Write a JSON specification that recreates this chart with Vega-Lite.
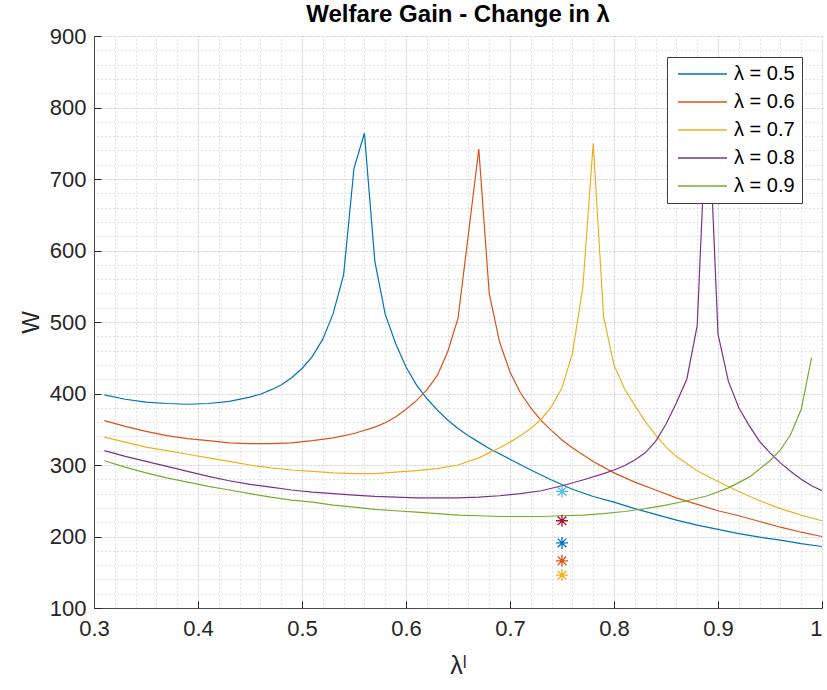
{
  "$schema": "https://vega.github.io/schema/vega-lite/v6.json",
  "width": 728,
  "height": 572,
  "autosize": {"type": "none"},
  "padding": {"left": 94, "top": 36, "right": 5, "bottom": 82},
  "background": "white",
  "config": {"view": {"stroke": null}},
  "title": {"text": "Welfare Gain - Change in λ", "fontSize": 24, "font": "Liberation Sans", "fontWeight": "bold", "color": "#000000", "anchor": "middle", "offset": -2},
  "datasets": {
    "curves": [
      {"s": "λ = 0.5", "x": 0.31, "W": 398}, {"s": "λ = 0.5", "x": 0.33, "W": 392}, {"s": "λ = 0.5", "x": 0.35, "W": 388}, {"s": "λ = 0.5", "x": 0.37, "W": 386}, {"s": "λ = 0.5", "x": 0.39, "W": 385}, {"s": "λ = 0.5", "x": 0.41, "W": 386}, {"s": "λ = 0.5", "x": 0.43, "W": 389}, {"s": "λ = 0.5", "x": 0.45, "W": 395}, {"s": "λ = 0.5", "x": 0.46, "W": 399}, {"s": "λ = 0.5", "x": 0.47, "W": 405}, {"s": "λ = 0.5", "x": 0.48, "W": 412}, {"s": "λ = 0.5", "x": 0.49, "W": 422}, {"s": "λ = 0.5", "x": 0.50, "W": 435}, {"s": "λ = 0.5", "x": 0.51, "W": 452}, {"s": "λ = 0.5", "x": 0.52, "W": 476}, {"s": "λ = 0.5", "x": 0.53, "W": 512}, {"s": "λ = 0.5", "x": 0.54, "W": 566}, {"s": "λ = 0.5", "x": 0.55, "W": 715}, {"s": "λ = 0.5", "x": 0.56, "W": 764}, {"s": "λ = 0.5", "x": 0.57, "W": 585}, {"s": "λ = 0.5", "x": 0.58, "W": 511}, {"s": "λ = 0.5", "x": 0.59, "W": 470}, {"s": "λ = 0.5", "x": 0.60, "W": 437}, {"s": "λ = 0.5", "x": 0.61, "W": 412}, {"s": "λ = 0.5", "x": 0.62, "W": 393}, {"s": "λ = 0.5", "x": 0.63, "W": 377}, {"s": "λ = 0.5", "x": 0.64, "W": 363}, {"s": "λ = 0.5", "x": 0.65, "W": 351}, {"s": "λ = 0.5", "x": 0.66, "W": 341}, {"s": "λ = 0.5", "x": 0.67, "W": 332}, {"s": "λ = 0.5", "x": 0.68, "W": 323}, {"s": "λ = 0.5", "x": 0.70, "W": 308}, {"s": "λ = 0.5", "x": 0.72, "W": 293}, {"s": "λ = 0.5", "x": 0.74, "W": 279}, {"s": "λ = 0.5", "x": 0.76, "W": 266}, {"s": "λ = 0.5", "x": 0.78, "W": 256}, {"s": "λ = 0.5", "x": 0.80, "W": 248}, {"s": "λ = 0.5", "x": 0.82, "W": 239}, {"s": "λ = 0.5", "x": 0.84, "W": 231}, {"s": "λ = 0.5", "x": 0.86, "W": 223}, {"s": "λ = 0.5", "x": 0.88, "W": 216}, {"s": "λ = 0.5", "x": 0.90, "W": 210}, {"s": "λ = 0.5", "x": 0.92, "W": 204}, {"s": "λ = 0.5", "x": 0.94, "W": 199}, {"s": "λ = 0.5", "x": 0.96, "W": 195}, {"s": "λ = 0.5", "x": 0.98, "W": 190}, {"s": "λ = 0.5", "x": 1.00, "W": 186},

      {"s": "λ = 0.6", "x": 0.31, "W": 362}, {"s": "λ = 0.6", "x": 0.33, "W": 354}, {"s": "λ = 0.6", "x": 0.35, "W": 347}, {"s": "λ = 0.6", "x": 0.37, "W": 341}, {"s": "λ = 0.6", "x": 0.39, "W": 337}, {"s": "λ = 0.6", "x": 0.41, "W": 334}, {"s": "λ = 0.6", "x": 0.43, "W": 331}, {"s": "λ = 0.6", "x": 0.45, "W": 330}, {"s": "λ = 0.6", "x": 0.47, "W": 330}, {"s": "λ = 0.6", "x": 0.49, "W": 331}, {"s": "λ = 0.6", "x": 0.51, "W": 334}, {"s": "λ = 0.6", "x": 0.53, "W": 338}, {"s": "λ = 0.6", "x": 0.55, "W": 344}, {"s": "λ = 0.6", "x": 0.57, "W": 353}, {"s": "λ = 0.6", "x": 0.58, "W": 359}, {"s": "λ = 0.6", "x": 0.59, "W": 367}, {"s": "λ = 0.6", "x": 0.60, "W": 378}, {"s": "λ = 0.6", "x": 0.61, "W": 390}, {"s": "λ = 0.6", "x": 0.62, "W": 405}, {"s": "λ = 0.6", "x": 0.63, "W": 425}, {"s": "λ = 0.6", "x": 0.64, "W": 458}, {"s": "λ = 0.6", "x": 0.65, "W": 505}, {"s": "λ = 0.6", "x": 0.66, "W": 623}, {"s": "λ = 0.6", "x": 0.67, "W": 742}, {"s": "λ = 0.6", "x": 0.68, "W": 540}, {"s": "λ = 0.6", "x": 0.69, "W": 472}, {"s": "λ = 0.6", "x": 0.70, "W": 430}, {"s": "λ = 0.6", "x": 0.71, "W": 401}, {"s": "λ = 0.6", "x": 0.72, "W": 380}, {"s": "λ = 0.6", "x": 0.73, "W": 362}, {"s": "λ = 0.6", "x": 0.74, "W": 348}, {"s": "λ = 0.6", "x": 0.75, "W": 335}, {"s": "λ = 0.6", "x": 0.76, "W": 324}, {"s": "λ = 0.6", "x": 0.78, "W": 305}, {"s": "λ = 0.6", "x": 0.80, "W": 289}, {"s": "λ = 0.6", "x": 0.82, "W": 276}, {"s": "λ = 0.6", "x": 0.84, "W": 265}, {"s": "λ = 0.6", "x": 0.86, "W": 254}, {"s": "λ = 0.6", "x": 0.88, "W": 245}, {"s": "λ = 0.6", "x": 0.90, "W": 236}, {"s": "λ = 0.6", "x": 0.92, "W": 229}, {"s": "λ = 0.6", "x": 0.94, "W": 221}, {"s": "λ = 0.6", "x": 0.96, "W": 213}, {"s": "λ = 0.6", "x": 0.98, "W": 206}, {"s": "λ = 0.6", "x": 1.00, "W": 200},

      {"s": "λ = 0.7", "x": 0.31, "W": 339}, {"s": "λ = 0.7", "x": 0.33, "W": 332}, {"s": "λ = 0.7", "x": 0.35, "W": 325}, {"s": "λ = 0.7", "x": 0.37, "W": 320}, {"s": "λ = 0.7", "x": 0.39, "W": 315}, {"s": "λ = 0.7", "x": 0.41, "W": 310}, {"s": "λ = 0.7", "x": 0.43, "W": 305}, {"s": "λ = 0.7", "x": 0.45, "W": 300}, {"s": "λ = 0.7", "x": 0.47, "W": 296}, {"s": "λ = 0.7", "x": 0.49, "W": 293}, {"s": "λ = 0.7", "x": 0.51, "W": 291}, {"s": "λ = 0.7", "x": 0.53, "W": 289}, {"s": "λ = 0.7", "x": 0.55, "W": 288}, {"s": "λ = 0.7", "x": 0.57, "W": 288}, {"s": "λ = 0.7", "x": 0.59, "W": 290}, {"s": "λ = 0.7", "x": 0.61, "W": 292}, {"s": "λ = 0.7", "x": 0.63, "W": 295}, {"s": "λ = 0.7", "x": 0.65, "W": 300}, {"s": "λ = 0.7", "x": 0.67, "W": 310}, {"s": "λ = 0.7", "x": 0.68, "W": 317}, {"s": "λ = 0.7", "x": 0.69, "W": 324}, {"s": "λ = 0.7", "x": 0.70, "W": 332}, {"s": "λ = 0.7", "x": 0.71, "W": 341}, {"s": "λ = 0.7", "x": 0.72, "W": 351}, {"s": "λ = 0.7", "x": 0.73, "W": 364}, {"s": "λ = 0.7", "x": 0.74, "W": 382}, {"s": "λ = 0.7", "x": 0.75, "W": 408}, {"s": "λ = 0.7", "x": 0.76, "W": 456}, {"s": "λ = 0.7", "x": 0.77, "W": 548}, {"s": "λ = 0.7", "x": 0.78, "W": 750}, {"s": "λ = 0.7", "x": 0.79, "W": 507}, {"s": "λ = 0.7", "x": 0.80, "W": 440}, {"s": "λ = 0.7", "x": 0.81, "W": 407}, {"s": "λ = 0.7", "x": 0.82, "W": 383}, {"s": "λ = 0.7", "x": 0.83, "W": 361}, {"s": "λ = 0.7", "x": 0.84, "W": 342}, {"s": "λ = 0.7", "x": 0.85, "W": 325}, {"s": "λ = 0.7", "x": 0.86, "W": 312}, {"s": "λ = 0.7", "x": 0.88, "W": 292}, {"s": "λ = 0.7", "x": 0.90, "W": 277}, {"s": "λ = 0.7", "x": 0.92, "W": 263}, {"s": "λ = 0.7", "x": 0.94, "W": 250}, {"s": "λ = 0.7", "x": 0.96, "W": 239}, {"s": "λ = 0.7", "x": 0.98, "W": 230}, {"s": "λ = 0.7", "x": 1.00, "W": 222},

      {"s": "λ = 0.8", "x": 0.31, "W": 320}, {"s": "λ = 0.8", "x": 0.33, "W": 312}, {"s": "λ = 0.8", "x": 0.35, "W": 305}, {"s": "λ = 0.8", "x": 0.37, "W": 298}, {"s": "λ = 0.8", "x": 0.39, "W": 291}, {"s": "λ = 0.8", "x": 0.41, "W": 284}, {"s": "λ = 0.8", "x": 0.43, "W": 278}, {"s": "λ = 0.8", "x": 0.45, "W": 273}, {"s": "λ = 0.8", "x": 0.47, "W": 269}, {"s": "λ = 0.8", "x": 0.49, "W": 265}, {"s": "λ = 0.8", "x": 0.51, "W": 262}, {"s": "λ = 0.8", "x": 0.53, "W": 260}, {"s": "λ = 0.8", "x": 0.55, "W": 258}, {"s": "λ = 0.8", "x": 0.57, "W": 256}, {"s": "λ = 0.8", "x": 0.59, "W": 255}, {"s": "λ = 0.8", "x": 0.61, "W": 254}, {"s": "λ = 0.8", "x": 0.63, "W": 254}, {"s": "λ = 0.8", "x": 0.65, "W": 254}, {"s": "λ = 0.8", "x": 0.67, "W": 255}, {"s": "λ = 0.8", "x": 0.69, "W": 257}, {"s": "λ = 0.8", "x": 0.71, "W": 260}, {"s": "λ = 0.8", "x": 0.73, "W": 264}, {"s": "λ = 0.8", "x": 0.75, "W": 271}, {"s": "λ = 0.8", "x": 0.77, "W": 279}, {"s": "λ = 0.8", "x": 0.79, "W": 288}, {"s": "λ = 0.8", "x": 0.80, "W": 293}, {"s": "λ = 0.8", "x": 0.81, "W": 299}, {"s": "λ = 0.8", "x": 0.82, "W": 307}, {"s": "λ = 0.8", "x": 0.83, "W": 317}, {"s": "λ = 0.8", "x": 0.84, "W": 333}, {"s": "λ = 0.8", "x": 0.85, "W": 357}, {"s": "λ = 0.8", "x": 0.86, "W": 387}, {"s": "λ = 0.8", "x": 0.87, "W": 420}, {"s": "λ = 0.8", "x": 0.88, "W": 495}, {"s": "λ = 0.8", "x": 0.89, "W": 830}, {"s": "λ = 0.8", "x": 0.90, "W": 483}, {"s": "λ = 0.8", "x": 0.91, "W": 417}, {"s": "λ = 0.8", "x": 0.92, "W": 380}, {"s": "λ = 0.8", "x": 0.93, "W": 355}, {"s": "λ = 0.8", "x": 0.94, "W": 333}, {"s": "λ = 0.8", "x": 0.95, "W": 317}, {"s": "λ = 0.8", "x": 0.96, "W": 303}, {"s": "λ = 0.8", "x": 0.97, "W": 291}, {"s": "λ = 0.8", "x": 0.98, "W": 280}, {"s": "λ = 0.8", "x": 0.99, "W": 271}, {"s": "λ = 0.8", "x": 1.00, "W": 264},

      {"s": "λ = 0.9", "x": 0.31, "W": 306}, {"s": "λ = 0.9", "x": 0.33, "W": 297}, {"s": "λ = 0.9", "x": 0.35, "W": 289}, {"s": "λ = 0.9", "x": 0.37, "W": 282}, {"s": "λ = 0.9", "x": 0.39, "W": 276}, {"s": "λ = 0.9", "x": 0.41, "W": 270}, {"s": "λ = 0.9", "x": 0.43, "W": 265}, {"s": "λ = 0.9", "x": 0.45, "W": 260}, {"s": "λ = 0.9", "x": 0.47, "W": 255}, {"s": "λ = 0.9", "x": 0.49, "W": 251}, {"s": "λ = 0.9", "x": 0.51, "W": 248}, {"s": "λ = 0.9", "x": 0.53, "W": 244}, {"s": "λ = 0.9", "x": 0.55, "W": 241}, {"s": "λ = 0.9", "x": 0.57, "W": 238}, {"s": "λ = 0.9", "x": 0.59, "W": 236}, {"s": "λ = 0.9", "x": 0.61, "W": 234}, {"s": "λ = 0.9", "x": 0.63, "W": 232}, {"s": "λ = 0.9", "x": 0.65, "W": 230}, {"s": "λ = 0.9", "x": 0.67, "W": 229}, {"s": "λ = 0.9", "x": 0.69, "W": 228}, {"s": "λ = 0.9", "x": 0.71, "W": 228}, {"s": "λ = 0.9", "x": 0.73, "W": 228}, {"s": "λ = 0.9", "x": 0.75, "W": 229}, {"s": "λ = 0.9", "x": 0.77, "W": 230}, {"s": "λ = 0.9", "x": 0.79, "W": 232}, {"s": "λ = 0.9", "x": 0.81, "W": 235}, {"s": "λ = 0.9", "x": 0.83, "W": 239}, {"s": "λ = 0.9", "x": 0.85, "W": 244}, {"s": "λ = 0.9", "x": 0.87, "W": 250}, {"s": "λ = 0.9", "x": 0.89, "W": 257}, {"s": "λ = 0.9", "x": 0.91, "W": 268}, {"s": "λ = 0.9", "x": 0.93, "W": 283}, {"s": "λ = 0.9", "x": 0.95, "W": 306}, {"s": "λ = 0.9", "x": 0.96, "W": 321}, {"s": "λ = 0.9", "x": 0.97, "W": 343}, {"s": "λ = 0.9", "x": 0.98, "W": 378}, {"s": "λ = 0.9", "x": 0.99, "W": 450}
    ],
    "stars": [
      {"k": "s1", "x": 0.75, "W": 263},
      {"k": "s2", "x": 0.75, "W": 222},
      {"k": "s3", "x": 0.75, "W": 191},
      {"k": "s4", "x": 0.75, "W": 166},
      {"k": "s5", "x": 0.75, "W": 146}
    ]
  },
  "layer": [
    {
      "data": {"name": "curves"},
      "mark": {"type": "line", "strokeWidth": 1.2, "clip": true},
      "encoding": {
        "x": {"field": "x", "type": "quantitative", "scale": {"domain": [0.3, 1], "nice": false, "zero": false},
          "axis": {"orient": "top", "values": [0.3,0.32,0.34,0.36,0.38,0.4,0.42,0.44,0.46,0.48,0.5,0.52,0.54,0.56,0.58,0.6,0.62,0.64,0.66,0.68,0.7,0.72,0.74,0.76,0.78,0.8,0.82,0.84,0.86,0.88,0.9,0.92,0.94,0.96,0.98,1.0],
            "grid": true, "gridColor": "#c4c4c4", "gridDash": [1, 3], "gridWidth": 1, "labels": false, "ticks": false, "domain": false, "title": null, "minExtent": 0, "maxExtent": 0}},
        "y": {"field": "W", "type": "quantitative", "scale": {"domain": [100, 900], "nice": false, "zero": false},
          "axis": {"orient": "right", "values": [100,120,140,160,180,200,220,240,260,280,300,320,340,360,380,400,420,440,460,480,500,520,540,560,580,600,620,640,660,680,700,720,740,760,780,800,820,840,860,880,900],
            "grid": true, "gridColor": "#c4c4c4", "gridDash": [1, 3], "gridWidth": 1, "labels": false, "ticks": false, "domain": false, "title": null, "minExtent": 0, "maxExtent": 0}},
        "color": {"field": "s", "type": "nominal",
          "scale": {"domain": ["λ = 0.5", "λ = 0.6", "λ = 0.7", "λ = 0.8", "λ = 0.9"], "range": ["#0072BD", "#D95319", "#EDB120", "#7E2F8E", "#77AC30"]},
          "legend": {"orient": "none", "legendX": 573, "legendY": 21, "title": null,
            "symbolType": "M-0.4,0H9.4", "symbolSize": 100, "symbolStrokeWidth": 1.4, "symbolOffset": -4,
            "labelOffset": 44, "labelFontSize": 20, "labelFont": "Liberation Sans", "labelColor": "#000000",
            "padding": 7, "rowPadding": 8, "strokeColor": "#3c3c3c", "fillColor": "#ffffff"}}
      }
    },
    {
      "data": {"name": "stars"},
      "mark": {"type": "point", "shape": "M0,-1V1M-1,0H1M-0.72,-0.72L0.72,0.72M-0.72,0.72L0.72,-0.72", "size": 144, "filled": false, "strokeWidth": 1.3, "opacity": 1},
      "encoding": {
        "x": {"field": "x", "type": "quantitative",
          "axis": {"orient": "bottom", "values": [0.3, 0.4, 0.5, 0.6, 0.7, 0.8, 0.9, 1.0], "format": "~g", "labelFlush": false,
            "labelAlign": {"condition": {"test": "datum.value >= 0.99", "value": "right"}, "value": "center"},
            "grid": true, "gridColor": "#bdbdbd", "gridDash": [1, 3], "gridWidth": 1,
            "tickSize": -7, "tickColor": "#262626", "domainColor": "#4a4a4a", "domainWidth": 1,
            "labelFont": "Liberation Sans", "labelFontSize": 22, "labelColor": "#262626", "labelPadding": 17,
            "title": "λˡ", "titleFont": "Liberation Sans", "titleFontSize": 25, "titleFontWeight": "normal", "titleColor": "#262626", "titlePadding": 14}},
        "y": {"field": "W", "type": "quantitative",
          "axis": {"orient": "left", "values": [100, 200, 300, 400, 500, 600, 700, 800, 900], "labelFlush": false,
            "grid": true, "gridColor": "#bdbdbd", "gridDash": [1, 3], "gridWidth": 1,
            "tickSize": -7, "tickColor": "#262626", "domainColor": "#4a4a4a", "domainWidth": 1,
            "labelFont": "Liberation Sans", "labelFontSize": 22, "labelColor": "#262626", "labelPadding": 15,
            "title": "W", "titleFont": "Liberation Sans", "titleFontSize": 24, "titleFontWeight": "normal", "titleColor": "#262626", "titlePadding": 6}},
        "color": {"field": "k", "type": "nominal",
          "scale": {"domain": ["s1", "s2", "s3", "s4", "s5"], "range": ["#4DBEEE", "#A2142F", "#0072BD", "#D95319", "#EDB120"]},
          "legend": null}
      }
    }
  ],
  "resolve": {"scale": {"color": "independent"}, "axis": {"x": "independent", "y": "independent"}}
}
